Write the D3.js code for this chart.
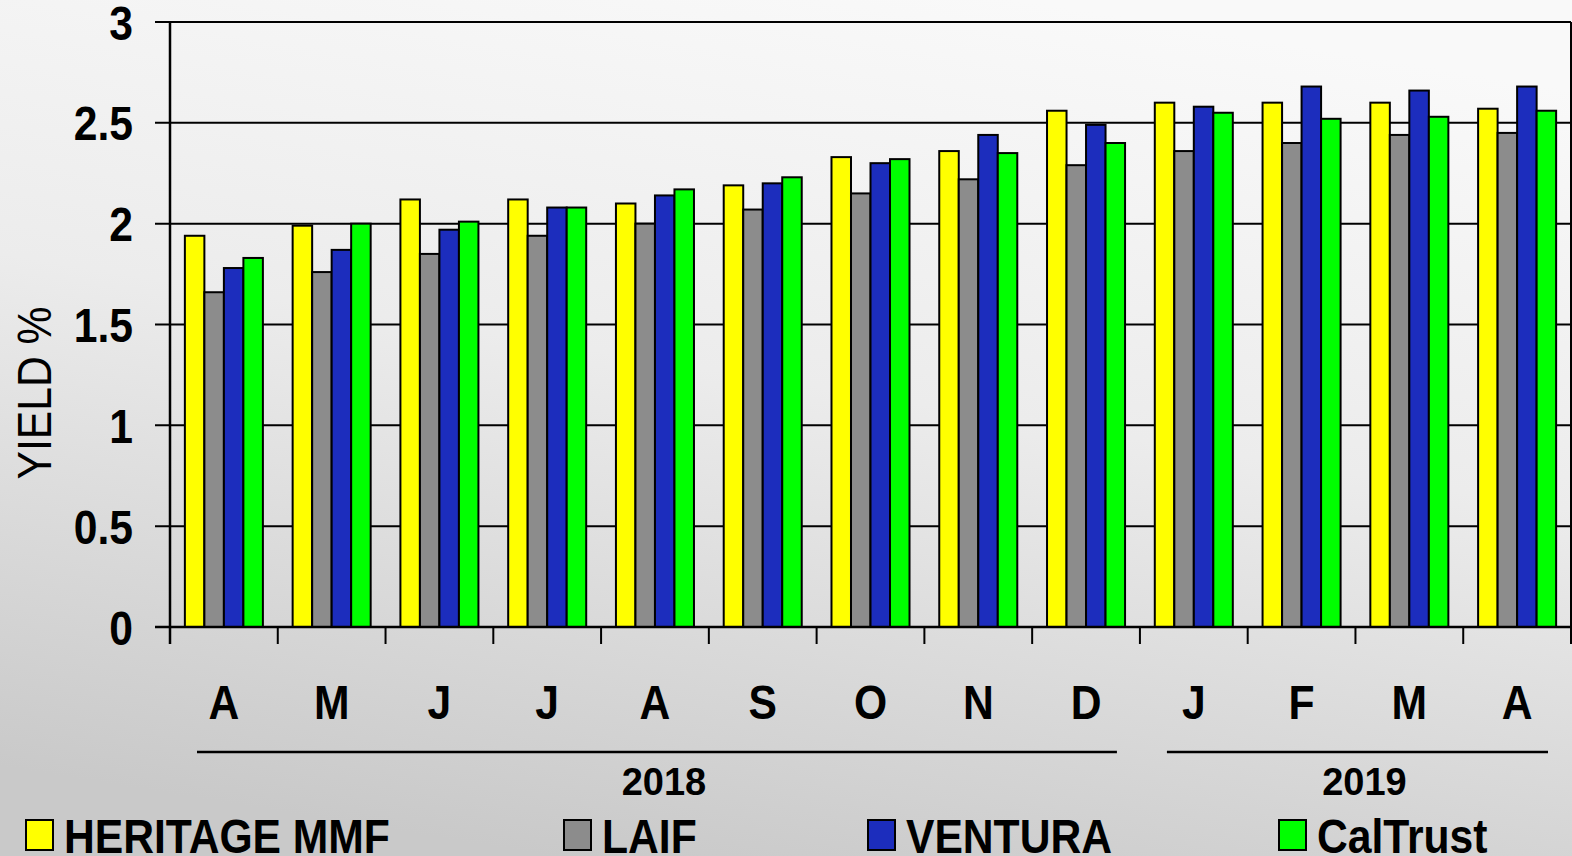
<!DOCTYPE html>
<html>
<head>
<meta charset="utf-8">
<script src="https://cdn.jsdelivr.net/npm/d3@7"></script>
<style>
body { margin: 0; padding: 0; overflow: hidden; }
svg { display: block; font-family: "Liberation Sans", Arial, sans-serif; }
</style>
</head>
<body>
<svg id="chart" width="1572" height="856"></svg>
<script>
var months = ["A", "M", "J", "J", "A", "S", "O", "N", "D", "J", "F", "M", "A"];
var series = ["HERITAGE MMF", "LAIF", "VENTURA", "CalTrust"];
var colors = ["#ffff00", "#8c8c8c", "#1c2dbd", "#00ff00"];
var heritage = [1.94, 1.99, 2.12, 2.12, 2.10, 2.19, 2.33, 2.36, 2.56, 2.60, 2.60, 2.60, 2.57];
var laif     = [1.66, 1.76, 1.85, 1.94, 2.00, 2.07, 2.15, 2.22, 2.29, 2.36, 2.40, 2.44, 2.45];
var ventura  = [1.78, 1.87, 1.97, 2.08, 2.14, 2.20, 2.30, 2.44, 2.49, 2.58, 2.68, 2.66, 2.68];
var caltrust = [1.83, 2.00, 2.01, 2.08, 2.17, 2.23, 2.32, 2.35, 2.40, 2.55, 2.52, 2.53, 2.56];
var yTicks = [0, 0.5, 1, 1.5, 2, 2.5, 3];
var years = [{label: "2018", from: 0, to: 8}, {label: "2019", from: 9, to: 12}];

var values = [heritage, laif, ventura, caltrust];

var svg = d3.select("#chart");
var W = 1572, H = 856;
var plotLeft = 170, plotRight = 1571, plotTop = 22, plotBottom = 627;
var sx = 0.87; // text in the picture is a bit narrow

// background gradient
var defs = svg.append("defs");
var grad = defs.append("linearGradient")
	.attr("id", "bg")
	.attr("x1", "0.65").attr("y1", "0")
	.attr("x2", "0.35").attr("y2", "1");
grad.append("stop").attr("offset", "0").attr("stop-color", "#f9f9f9");
grad.append("stop").attr("offset", "0.45").attr("stop-color", "#ececec");
grad.append("stop").attr("offset", "1").attr("stop-color", "#c9c9c9");
svg.append("rect").attr("width", W).attr("height", H).attr("fill", "url(#bg)");

var x0 = d3.scaleBand()
	.domain(d3.range(months.length))
	.range([plotLeft, plotRight])
	.paddingInner(0.276)
	.paddingOuter(0.138);
var x1 = d3.scaleBand()
	.domain(d3.range(series.length))
	.range([0, x0.bandwidth()]);
var y = d3.scaleLinear().domain([0, 3]).range([plotBottom, plotTop]);
var step = x0.step();

// gridlines + y ticks
svg.append("g").selectAll("line")
	.data(yTicks.filter(function(d){ return d > 0; }))
	.enter().append("line")
	.attr("x1", plotLeft - 15).attr("x2", plotRight)
	.attr("y1", function(d){ return y(d); })
	.attr("y2", function(d){ return y(d); })
	.attr("stroke", "#000").attr("stroke-width", 2);

// right border
svg.append("line")
	.attr("x1", plotRight).attr("x2", plotRight)
	.attr("y1", y(3)).attr("y2", y(0))
	.attr("stroke", "#000").attr("stroke-width", 2);

// bars
var groups = svg.append("g").selectAll("g")
	.data(months)
	.enter().append("g")
	.attr("transform", function(d, i){ return "translate(" + x0(i) + ",0)"; });
groups.selectAll("rect")
	.data(function(d, i){ return values.map(function(v, s){ return {s: s, v: v[i]}; }); })
	.enter().append("rect")
	.attr("x", function(d){ return x1(d.s); })
	.attr("width", x1.bandwidth())
	.attr("y", function(d){ return y(d.v); })
	.attr("height", function(d){ return y(0) - y(d.v); })
	.attr("fill", function(d){ return colors[d.s]; })
	.attr("stroke", "#000")
	.attr("stroke-width", 2);

// x axis line and ticks
svg.append("line")
	.attr("x1", plotLeft - 15).attr("x2", plotRight)
	.attr("y1", y(0)).attr("y2", y(0))
	.attr("stroke", "#000").attr("stroke-width", 2.5);
svg.append("line")
	.attr("x1", plotLeft).attr("x2", plotLeft)
	.attr("y1", y(3)).attr("y2", y(0) + 17)
	.attr("stroke", "#000").attr("stroke-width", 2.5);
svg.append("g").selectAll("line")
	.data(d3.range(1, months.length + 1))
	.enter().append("line")
	.attr("x1", function(i){ return plotLeft + i * step; })
	.attr("x2", function(i){ return plotLeft + i * step; })
	.attr("y1", y(0)).attr("y2", y(0) + 17)
	.attr("stroke", "#000").attr("stroke-width", 2);

// y tick labels
svg.append("g").selectAll("text")
	.data(yTicks)
	.enter().append("text")
	.attr("transform", function(d){ return "translate(133," + (y(d) + 17.5) + ") scale(" + sx + ",1)"; })
	.attr("text-anchor", "end")
	.attr("font-size", 49)
	.attr("font-weight", "bold")
	.text(function(d){ return d; });

// y title
svg.append("text")
	.attr("transform", "translate(51,393) rotate(-90) scale(" + sx + ",1)")
	.attr("text-anchor", "middle")
	.attr("font-size", 49)
	.text("YIELD %");

// month labels
svg.append("g").selectAll("text")
	.data(months)
	.enter().append("text")
	.attr("transform", function(d, i){ return "translate(" + (x0(i) + x0.bandwidth() / 2) + ",719) scale(" + sx + ",1)"; })
	.attr("text-anchor", "middle")
	.attr("font-size", 49)
	.attr("font-weight", "bold")
	.text(function(d){ return d; });

// year brackets
var yg = svg.append("g").selectAll("g").data(years).enter().append("g");
yg.append("line")
	.attr("x1", function(d){ return plotLeft + d.from * step + 27; })
	.attr("x2", function(d){ return plotLeft + (d.to + 1) * step - 23; })
	.attr("y1", 752).attr("y2", 752)
	.attr("stroke", "#000").attr("stroke-width", 2.5);
yg.append("text")
	.attr("x", function(d){ return plotLeft + (d.from + d.to + 1) * step / 2 + 9; })
	.attr("y", 795)
	.attr("text-anchor", "middle")
	.attr("font-size", 38)
	.attr("font-weight", "bold")
	.text(function(d){ return d.label; });

// legend
var legendX = [25, 563, 867, 1278];
var lg = svg.append("g").selectAll("g")
	.data(series)
	.enter().append("g")
	.attr("transform", function(d, i){ return "translate(" + legendX[i] + ",0)"; });
lg.append("rect")
	.attr("x", 1).attr("y", 820)
	.attr("width", 27).attr("height", 30)
	.attr("fill", function(d, i){ return colors[i]; })
	.attr("stroke", "#000").attr("stroke-width", 2);
lg.append("text")
	.attr("transform", "translate(39,853) scale(" + sx + ",1)")
	.attr("font-size", 49)
	.attr("font-weight", "bold")
	.text(function(d){ return d; });
</script>
</body>
</html>
